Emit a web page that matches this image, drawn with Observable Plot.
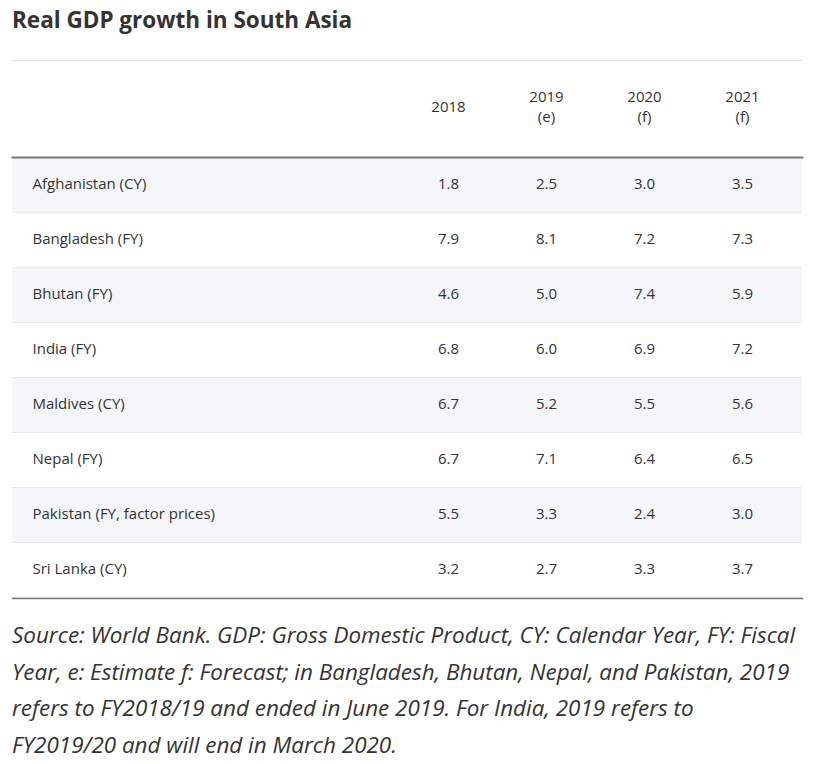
<!DOCTYPE html>
<html>
<head>
<meta charset="utf-8">
<script src="https://cdn.jsdelivr.net/npm/d3@7"></script>
<script src="https://cdn.jsdelivr.net/npm/@observablehq/plot@0.6"></script>
<style>
  html, body { margin: 0; padding: 0; background: #fff; }
  body { width: 819px; height: 764px; position: relative; overflow: hidden; font-family: "Open Sans", sans-serif; color: #333; }
  #title { position: absolute; left: 12px; top: 5px; font-size: 22.5px; font-weight: 700; line-height: 1.362; color: #333; white-space: nowrap; }
  #topline { position: absolute; left: 12px; top: 60px; width: 790px; height: 1px; background: #e4e4e4; }
  #chart { position: absolute; left: 0; top: 56px; }
  #caption { position: absolute; left: 12px; top: 617px; font-size: 22.45px; font-style: italic; line-height: 36.6px; color: #333; white-space: nowrap; }
</style>
</head>
<body>
<div id="title"></div>
<div id="topline"></div>
<div id="chart"></div>
<div id="caption"></div>
<script>
const title = "Real GDP growth in South Asia";
const countries = ["Afghanistan (CY)", "Bangladesh (FY)", "Bhutan (FY)", "India (FY)", "Maldives (CY)", "Nepal (FY)", "Pakistan (FY, factor prices)", "Sri Lanka (CY)"];
const years = ["2018", "2019", "2020", "2021"];
const yearLabels = ["2018", "2019\n(e)", "2020\n(f)", "2021\n(f)"];
const v2018 = [1.8, 7.9, 4.6, 6.8, 6.7, 6.7, 5.5, 3.2];
const v2019 = [2.5, 8.1, 5.0, 6.0, 5.2, 7.1, 3.3, 2.7];
const v2020 = [3.0, 7.2, 7.4, 6.9, 5.5, 6.4, 2.4, 3.3];
const v2021 = [3.5, 7.3, 5.9, 7.2, 5.6, 6.5, 3.0, 3.7];
const captionLines = [
  "Source: World Bank. GDP: Gross Domestic Product, CY: Calendar Year, FY: Fiscal",
  "Year, e: Estimate f: Forecast; in Bangladesh, Bhutan, Nepal, and Pakistan, 2019",
  "refers to FY2018/19 and ended in June 2019. For India, 2019 refers to",
  "FY2019/20 and will end in March 2020."
];

document.getElementById("title").textContent = title;
const cap = document.getElementById("caption");
captionLines.forEach(l => { const d = document.createElement("div"); d.textContent = l; cap.appendChild(d); });

const series = [v2018, v2019, v2020, v2021];
const cells = [];
countries.forEach((c, i) => years.forEach((y, j) => cells.push({country: c, year: y, value: series[j][i]})));
const headers = years.map((y, j) => ({year: y, label: yearLabels[j]}));
const shaded = countries.filter((_, i) => i % 2 === 0);
const plain = countries.filter((_, i) => i % 2 === 1);

const chart = Plot.plot({
  width: 819,
  height: 548,
  marginTop: 101,
  marginBottom: 6,
  marginLeft: 12,
  marginRight: 17,
  style: {fontFamily: "Open Sans", fontSize: "15px", color: "#333", background: "transparent"},
  x: {type: "point", domain: years, range: [447, 742], padding: 0, axis: null},
  y: {type: "band", domain: countries, padding: 0, axis: null},
  marks: [
    Plot.cell(countries, {y: d => d, fill: "#e9e9ec", inset: 0}),
    Plot.cell(shaded, {y: d => d, fill: "#f5f6fa", inset: 0, insetBottom: 1}),
    Plot.cell(plain, {y: d => d, fill: "#ffffff", inset: 0, insetBottom: 1}),
    Plot.frame({anchor: "top", stroke: "#777", strokeWidth: 2}),
    Plot.frame({anchor: "bottom", stroke: "#777", strokeWidth: 1.5}),
    Plot.text(headers, {x: "year", text: "label", frameAnchor: "top", dy: -52, lineAnchor: "middle", lineHeight: 1.3, fill: "#333"}),
    Plot.text(countries, {y: d => d, text: d => d, frameAnchor: "left", dx: 20, dy: -1.5, textAnchor: "start", fill: "#333"}),
    Plot.text(cells, {x: "year", y: "country", text: d => d.value.toFixed(1), dy: -1.5, fill: "#333"})
  ]
});
document.getElementById("chart").appendChild(chart);
</script>
</body>
</html>
